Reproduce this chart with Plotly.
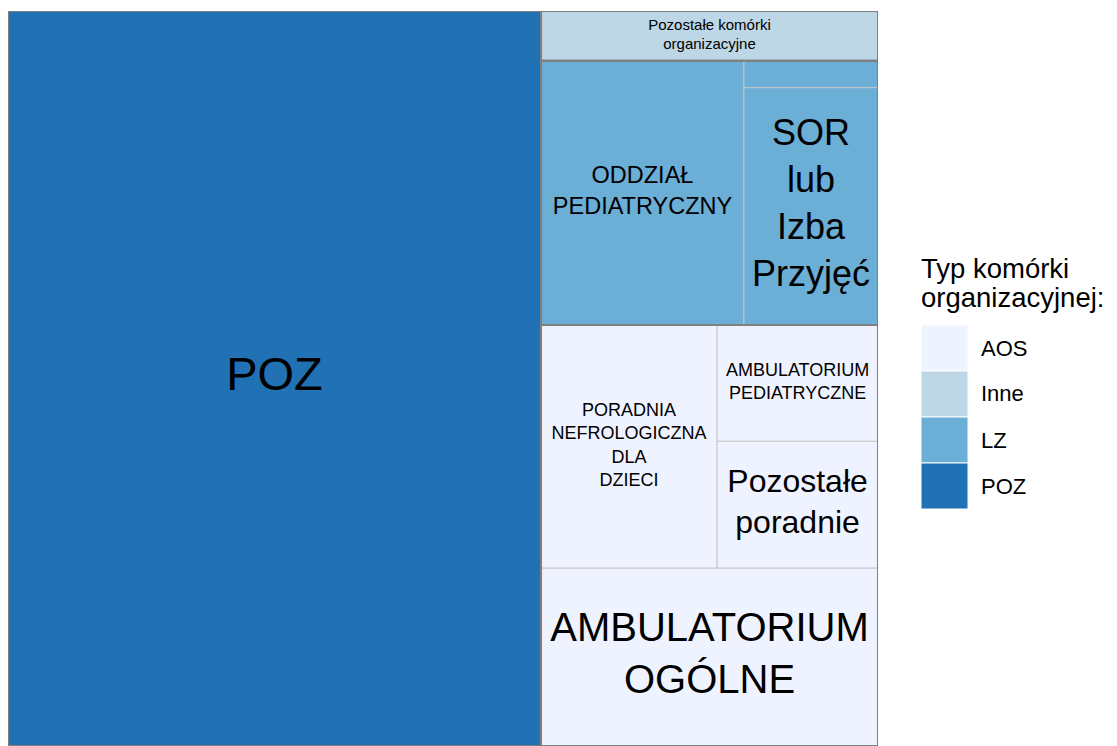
import plotly.graph_objects as go

# Types of organisational units (legend order) and their colours
unit_types = ['AOS', 'Inne', 'LZ', 'POZ']
type_colors = ['#eff3ff', '#bdd7e7', '#6baed6', '#2171b5']

# Organisational units, their type and size
unit_labels = ['POZ',
               'Pozostałe komórki<br>organizacyjne',
               'ODDZIAŁ<br>PEDIATRYCZNY',
               '',
               'SOR<br>lub<br>Izba<br>Przyjęć',
               'AMBULATORIUM<br>OGÓLNE',
               'PORADNIA<br>NEFROLOGICZNA<br>DLA<br>DZIECI',
               'Pozostałe<br>poradnie',
               'AMBULATORIUM<br>PEDIATRYCZNE']
unit_type = ['POZ', 'Inne', 'LZ', 'LZ', 'LZ', 'AOS', 'AOS', 'AOS', 'AOS']
unit_values = [3918, 168, 536, 36, 318, 600, 428, 204, 187]

# label font size of every tile (style)
label_sizes = [47, 15, 23.5, 10, 36, 40, 18, 32, 18]

W, H = 1101, 738          # figure size
PL, PT = 870, 3           # plot width / top margin in px
PH = H - PT


def worst(row, side):
    thick = sum(row) / side
    return max(max(thick / (a / thick), (a / thick) / thick) for a in row)


def squarify(vals, x, y, w, h):
    """Squarified layout, rows start at the bottom-left corner."""
    scale = w * h / sum(vals)
    items = [v * scale for v in vals]
    rects = []
    while items:
        col = w >= h
        side = h if col else w
        n = 1
        while n < len(items) and worst(items[:n + 1], side) <= worst(items[:n], side):
            n += 1
        row = items[:n]
        thick = sum(row) / side
        pos = 0
        for a in row:
            length = a / thick
            if col:
                rects.append((x, y + pos, thick, length))
            else:
                rects.append((x + pos, y, length, thick))
            pos += length
        if col:
            x += thick
            w -= thick
        else:
            y += thick
            h -= thick
        items = items[n:]
    return rects


# groups sorted by total, then the units inside each group
totals = {t: sum(v for v, u in zip(unit_values, unit_type) if u == t) for t in unit_types}
groups = sorted(unit_types, key=lambda t: -totals[t])
group_rects = dict(zip(groups, squarify([totals[g] for g in groups], 0, 0, 1, 1)))

leaf_rects = {}
for g in groups:
    idx = sorted([i for i, u in enumerate(unit_type) if u == g], key=lambda i: -unit_values[i])
    x0, y0, w0, h0 = group_rects[g]
    for i, r in zip(idx, squarify([unit_values[i] for i in idx], x0, y0, w0, h0)):
        leaf_rects[i] = r


def box(r):
    x, y, w, h = r
    return [x, x + w, x + w, x, x], [y, y, y + h, y + h, y]


fig = go.Figure()

# tiles
for i in range(len(unit_labels)):
    bx, by = box(leaf_rects[i])
    fig.add_trace(go.Scatter(
        x=bx, y=by, mode='lines', fill='toself',
        fillcolor=type_colors[unit_types.index(unit_type[i])],
        line=dict(color='#c6c6c6', width=1),
        hoverinfo='skip', showlegend=False))

# group borders
for g in groups:
    bx, by = box(group_rects[g])
    fig.add_trace(go.Scatter(
        x=bx, y=by, mode='lines',
        line=dict(color='#7f7f7f', width=2),
        hoverinfo='skip', showlegend=False))

# tile labels
fig.add_trace(go.Scatter(
    x=[leaf_rects[i][0] + leaf_rects[i][2] / 2 for i in range(len(unit_labels))],
    y=[leaf_rects[i][1] + leaf_rects[i][3] / 2 for i in range(len(unit_labels))],
    mode='text', text=unit_labels, textposition='middle center',
    textfont=dict(size=label_sizes, color='black', family='Liberation Sans, Arial'),
    hovertext=[u + ': ' + str(v) for u, v in zip(unit_type, unit_values)],
    hoverinfo='text', showlegend=False))


# legend drawn by hand (big square keys like the reference)
def px(fx):
    return fx / PL


def py(fy):
    return (H - fy) / PH


shapes = []
annotations = [
    dict(x=px(911), y=py(260), xref='paper', yref='paper', text='Typ komórki',
         showarrow=False, xanchor='left', yanchor='middle', font=dict(size=27.5)),
    dict(x=px(911), y=py(289), xref='paper', yref='paper', text='organizacyjnej:',
         showarrow=False, xanchor='left', yanchor='middle', font=dict(size=27.5)),
]
for k, (t, c) in enumerate(zip(unit_types, type_colors)):
    top = 317 + 46 * k
    shapes.append(dict(type='rect', xref='paper', yref='paper',
                       x0=px(913), x1=px(960), y0=py(top + 46), y1=py(top),
                       fillcolor=c, line=dict(color='white', width=1)))
    annotations.append(dict(x=px(971), y=py(top + 23), xref='paper', yref='paper',
                            text=t, showarrow=False, xanchor='left', yanchor='middle',
                            font=dict(size=22)))

fig.update_layout(
    width=W, height=H,
    margin=dict(l=0, r=W - PL, t=PT, b=0),
    paper_bgcolor='white', plot_bgcolor='white',
    font=dict(family='Liberation Sans, Arial', color='black'),
    xaxis=dict(range=[0, 1], visible=False, fixedrange=True),
    yaxis=dict(range=[0, 1], visible=False, fixedrange=True),
    shapes=shapes, annotations=annotations,
)

fig.write_html("out.html")
